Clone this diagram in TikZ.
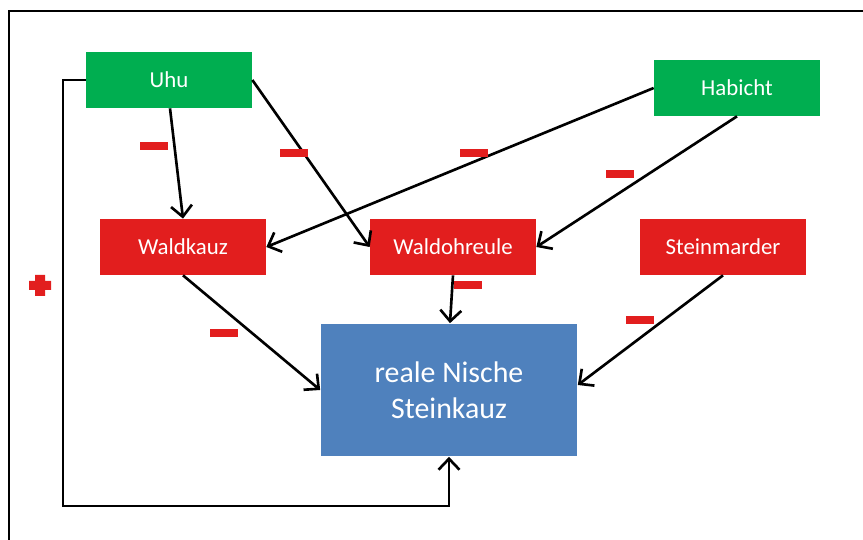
\documentclass[tikz,border=0pt]{standalone}
\usepackage{fontspec}
\setmainfont{Carlito}
\usetikzlibrary{arrows.meta}
\definecolor{boxgreen}{RGB}{0,174,80}
\definecolor{boxred}{RGB}{226,30,30}
\definecolor{boxblue}{RGB}{79,129,189}
\begin{document}
\begin{tikzpicture}[x=0.02cm, y=-0.02cm,
  species/.style={minimum width=3.32cm, minimum height=1.12cm, inner sep=0pt,
    text=white, font=\fontsize{13}{15}\selectfont},
  minus/.style={fill=boxred, minimum width=0.56cm, minimum height=0.16cm, inner sep=0pt},
  link/.style={line width=1.5pt, -{Straight Barb[length=2.2mm,width=4.2mm]}}]
\useasboundingbox (0,0) rectangle (863,540);
\draw[line width=0.6pt] (9,540) |- (863,11);
\node[species, fill=boxgreen] (uhu) at (169,80) {Uhu};
\node[species, fill=boxgreen] (habicht) at (737,88) {Habicht};
\node[species, fill=boxred] (waldkauz) at (183,247) {Waldkauz};
\node[species, fill=boxred] (waldohreule) at (453,247) {Waldohreule};
\node[species, fill=boxred] (steinmarder) at (723,247) {Steinmarder};
\node[fill=boxblue, minimum width=5.14cm, minimum height=2.66cm, inner sep=0pt,
  text=white, align=center, font=\fontsize{17}{20.5}\selectfont] (nische) at (449,390)
  {reale Nische\\Steinkauz};
\draw[link] (uhu.south) ++(1,0) -- (waldkauz.north);
\draw[link] (uhu.east) -- (waldohreule.west);
\draw[link] (habicht.west) -- (waldkauz.east);
\draw[link] (habicht.south) -- (waldohreule.east);
\draw[link] (waldkauz.south) -- (nische.west);
\draw[link] (waldohreule.south) -- ([xshift=-0.06cm]waldohreule.south |- nische.north);
\draw[link] (steinmarder.south) -- ([yshift=0.1cm]nische.east);
\coordinate (loop) at (63,506);
\draw[link] (uhu.west) -| (loop) -| (nische.south);
\foreach \x/\y [count=\i] in {154/146, 294/153, 474/153, 620/174, 224/333, 468/285, 640/320}
  \node[minus] (m\i) at (\x,\y) {};
\fill[boxred] (29,281) rectangle (51,290) (35,275) rectangle (45,296);
\end{tikzpicture}
\end{document}
